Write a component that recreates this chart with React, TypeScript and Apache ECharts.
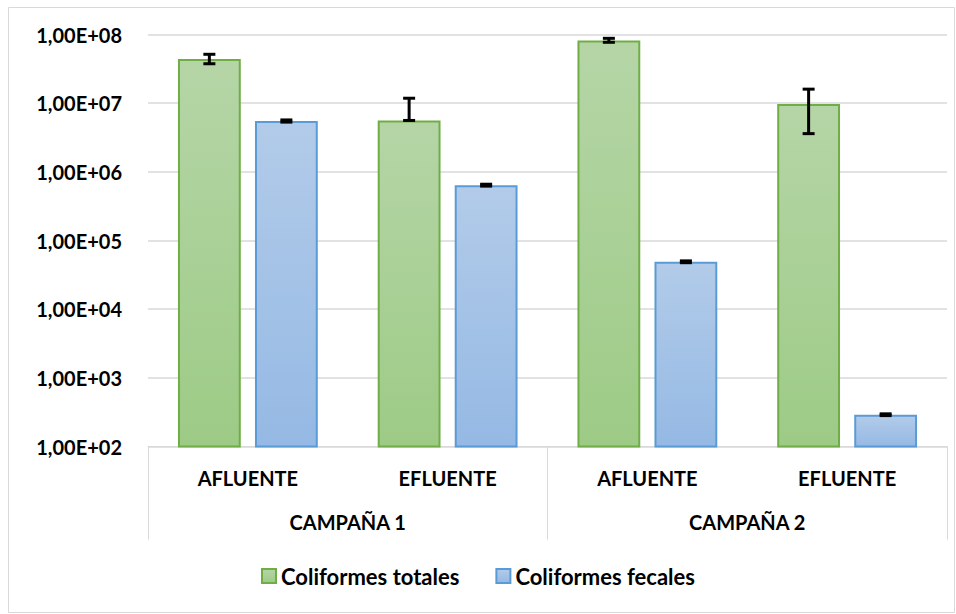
import React, { useEffect, useRef } from "react";
import * as echarts from "echarts";

const categories = ["AFLUENTE", "EFLUENTE", "AFLUENTE", "EFLUENTE"];
const campaigns = ["CAMPAÑA 1", "CAMPAÑA 2"];
const seriesNames = ["Coliformes totales", "Coliformes fecales"];

const totales = [4.4e7, 5.6e6, 8.2e7, 9.7e6];
const totalesLow = [3.75e7, 5.6e6, 7.7e7, 3.6e6];
const totalesHigh = [5.15e7, 1.18e7, 8.8e7, 1.6e7];

const fecales = [5.5e6, 6.4e5, 4.9e4, 290];
const fecalesLow = [5.3e6, 6.2e5, 4.75e4, 282];
const fecalesHigh = [5.7e6, 6.6e5, 5.05e4, 299];

const FONT = "Lato";
const GAP_CAT = 0.3;
const GAP_BAR = 0.226;

function errorRender(side: number) {
  return (params: any, api: any) => {
    const idx = api.value(0);
    const lo = api.coord([idx, api.value(1)]);
    const hi = api.coord([idx, api.value(2)]);
    const band = api.size([1, 0])[0];
    const barW = (band * (1 - GAP_CAT)) / (2 + GAP_BAR);
    const off = (side * (barW * (1 + GAP_BAR))) / 2;
    const x = lo[0] + off;
    const cap = 6;
    const style = { stroke: "#000", lineWidth: 3 };
    return {
      type: "group",
      children: [
        { type: "line", shape: { x1: x, y1: hi[1], x2: x, y2: lo[1] }, style },
        { type: "line", shape: { x1: x - cap, y1: hi[1], x2: x + cap, y2: hi[1] }, style },
        { type: "line", shape: { x1: x - cap, y1: lo[1], x2: x + cap, y2: lo[1] }, style },
      ],
    };
  };
}

export default function App() {
  const ref = useRef<HTMLDivElement>(null);
  useEffect(() => {
    const chart = echarts.init(ref.current!, null, { renderer: "svg" });
    const green = new echarts.graphic.LinearGradient(0, 0, 0, 1, [
      { offset: 0, color: "#b5d5a6" },
      { offset: 1, color: "#9dcb86" },
    ]);
    const blue = new echarts.graphic.LinearGradient(0, 0, 0, 1, [
      { offset: 0, color: "#b2cbe9" },
      { offset: 1, color: "#95b9e4" },
    ]);
    const labelStyle = { fontFamily: FONT, fontWeight: "bold" as const, fontSize: 20, color: "#000" };
    chart.setOption({
      animation: false,
      textStyle: { fontFamily: FONT },
      graphic: [
        {
          type: "rect",
          shape: { x: 8.5, y: 7.5, width: 946, height: 605 },
          style: { fill: "none", stroke: "#d9d9d9", lineWidth: 1 },
          silent: true,
        },
      ],
      grid: { left: 148, right: 9, top: 34.5, bottom: 167.5, containLabel: false },
      legend: {
        data: seriesNames,
        bottom: 22,
        left: "center",
        itemWidth: 14,
        itemHeight: 14,
        itemGap: 36,
        icon: "rect",
        textStyle: { ...labelStyle, fontSize: 22 },
      },
      xAxis: [
        {
          type: "category",
          data: categories,
          axisLine: { show: true, lineStyle: { color: "#d9d9d9", width: 1 } },
          axisTick: { show: false },
          axisLabel: { ...labelStyle, margin: 21 },
        },
        {
          type: "category",
          data: campaigns,
          position: "bottom",
          axisLine: { show: false },
          axisTick: { show: true, length: 93, lineStyle: { color: "#d9d9d9", width: 1 } },
          axisLabel: { ...labelStyle, margin: 65 },
        },
      ],
      yAxis: {
        type: "log",
        logBase: 10,
        min: 100,
        max: 1e8,
        axisLine: { show: false },
        axisTick: { show: false },
        splitLine: { lineStyle: { color: "#d9d9d9", width: 1.5 } },
        axisLabel: {
          ...labelStyle,
          margin: 26,
          formatter: (v: number) => {
            const e = Math.round(Math.log10(v));
            return "1,00E+" + (e < 10 ? "0" + e : String(e));
          },
        },
      },
      series: [
        {
          name: seriesNames[0],
          type: "bar",
          data: totales,
          barCategoryGap: "30%",
          barGap: "22.6%",
          itemStyle: { color: green, borderColor: "#70ad47", borderWidth: 2 },
        },
        {
          name: seriesNames[1],
          type: "bar",
          data: fecales,
          itemStyle: { color: blue, borderColor: "#5b9bd5", borderWidth: 2 },
        },
        {
          name: "err-tot",
          type: "custom",
          renderItem: errorRender(-1),
          data: totales.map((_, i) => [i, totalesLow[i], totalesHigh[i]]),
          encode: { x: 0, y: [1, 2] },
          z: 10,
          clip: false,
        },
        {
          name: "err-fec",
          type: "custom",
          renderItem: errorRender(1),
          data: fecales.map((_, i) => [i, fecalesLow[i], fecalesHigh[i]]),
          encode: { x: 0, y: [1, 2] },
          z: 10,
          clip: false,
        },
      ],
    });
    return () => chart.dispose();
  }, []);
  return <div ref={ref} style={{ width: 956, height: 614, position: "absolute", left: 0, top: 0 }} />;
}
